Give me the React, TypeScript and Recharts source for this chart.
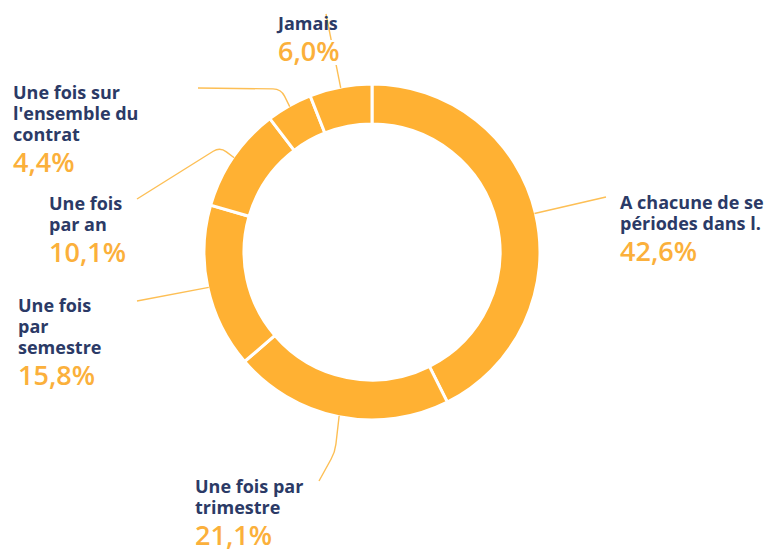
import { PieChart, Pie, Cell } from "recharts"

const categories = [
  "A chacune de se|périodes dans l.",
  "Une fois par|trimestre",
  "Une fois|par|semestre",
  "Une fois|par an",
  "Une fois sur|l'ensemble du|contrat",
  "Jamais",
]
const shares = [42.6, 21.1, 15.8, 10.1, 4.4, 6.0]

const data = categories.map((name, i) => ({ name, value: shares[i] }))

// label placement: text anchor + leader line waypoints (after the slice point)
const layout = [
  { x: 620, y: 209, path: [[606, 197]] },
  { x: 195, y: 493, path: [[335, 452], [319, 481]] },
  { x: 18, y: 312, path: [[137, 301]] },
  { x: 49, y: 210, path: [[220, 147], [137, 199]] },
  { x: 13, y: 99, path: [[281, 89], [198, 88]] },
  { x: 278, y: 30, path: [[326, 14]] },
]

const RING = "#FFB133"
const NAVY = "#2B3A66"
const PCT = "#FBB03B"
const LINE = "#FDBF55"
const FONT = "'Open Sans', 'Noto Sans', sans-serif"
const RAD = Math.PI / 180
const LH = 21

function roundedPath(pts: number[][], r: number) {
  let d = `M${pts[0][0]},${pts[0][1]}`
  for (let i = 1; i < pts.length - 1; i++) {
    const [px, py] = pts[i - 1]
    const [x, y] = pts[i]
    const [nx, ny] = pts[i + 1]
    const l1 = Math.hypot(x - px, y - py)
    const l2 = Math.hypot(nx - x, ny - y)
    const a = Math.min(r, l1 / 2)
    const b = Math.min(r, l2 / 2)
    d += ` L${x - ((x - px) / l1) * a},${y - ((y - py) / l1) * a}`
    d += ` Q${x},${y} ${x + ((nx - x) / l2) * b},${y + ((ny - y) / l2) * b}`
  }
  const last = pts[pts.length - 1]
  d += ` L${last[0]},${last[1]}`
  return d
}

function renderLabel(props: any) {
  const { cx, cy, midAngle, outerRadius, index, value, name } = props
  const lay = layout[index]
  const sx = cx + (outerRadius - 1) * Math.cos(-midAngle * RAD)
  const sy = cy + (outerRadius - 1) * Math.sin(-midAngle * RAD)
  const lines = String(name).split("|")
  const pctY = lay.y + (lines.length - 1) * LH + 31
  const pctText = value.toFixed(1).replace(".", ",") + "%"
  return (
    <g key={`lab-${index}`}>
      <path
        d={roundedPath([[sx, sy], ...lay.path], 8)}
        fill="none"
        stroke={LINE}
        strokeWidth={1.4}
      />
      <text x={lay.x} y={lay.y} fill={NAVY} fontFamily={FONT} fontWeight={700} fontSize={18}>
        {lines.map((l, i) => (
          <tspan key={i} x={lay.x} y={lay.y + i * LH}>
            {l}
          </tspan>
        ))}
      </text>
      {index === 5 && <rect x={lay.x} y={pctY - 21} width={64} height={25} fill="#fff" />}
      <text x={lay.x} y={pctY} fill={PCT} fontFamily={FONT} fontWeight={600} fontSize={27}>
        {pctText}
      </text>
    </g>
  )
}

export default function App() {
  return (
    <div style={{ position: "absolute", left: 0, top: 0, width: 765, height: 549, background: "#fff" }}>
      <PieChart width={765} height={549} margin={{ top: 0, right: 0, bottom: 0, left: 0 }}>
        <Pie
          data={data}
          dataKey="value"
          nameKey="name"
          cx={372}
          cy={252}
          innerRadius={128}
          outerRadius={168}
          startAngle={90}
          endAngle={-270}
          stroke="#fff"
          strokeWidth={3}
          label={renderLabel}
          labelLine={false}
          isAnimationActive={false}
        >
          {data.map((entry, index) => (
            <Cell key={`cell-${index}`} fill={RING} />
          ))}
        </Pie>
      </PieChart>
    </div>
  )
}
